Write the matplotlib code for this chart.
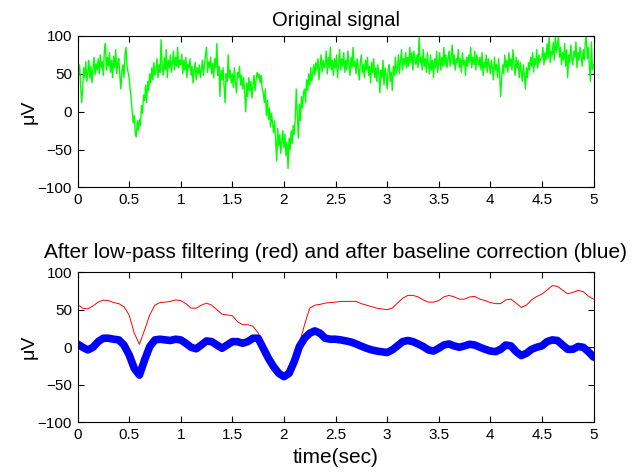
import numpy as np
import matplotlib
matplotlib.use("Agg")
import matplotlib.pyplot as plt

plt.rcParams['font.family'] = ['Liberation Sans', 'DejaVu Sans']

# ---- data ----
# original (noisy) signal, sampled every 0.01 s from 0 to 5 s
green_vals = [
    55, 48, 62, 35, 12, 30, 58, 45, 66, 40,
    52, 68, 44, 60, 38, 57, 72, 49, 63, 55,
    70, 50, 75, 58, 66, 48, 80, 90, 55, 72,
    60, 78, 52, 68, 45, 73, 58, 82, 50, 64,
    70, 48, 30, 55, 62, 45, 75, 85, 60, 52,
    45, 30, 18, 0, -15, -5, -28, -33, -12, -25,
    -10, -18, 8, -2, 22, 15, 35, 12, 40, 28,
    50, 38, 58, 42, 65, 48, 55, 70, 45, 62,
    52, 95, 60, 48, 72, 55, 82, 45, 68, 58,
    75, 52, 66, 80, 55, 72, 60, 85, 58, 68,
    62, 76, 50, 68, 55, 72, 45, 63, 58, 70,
    48, 60, 38, 55, 65, 42, 58, 50, 62, 45,
    55, 68, 48, 62, 75, 85, 52, 66, 58, 72,
    50, 64, 45, 70, 58, 90, 48, 60, 20, 55,
    42, 58, 35, 12, 50, 40, 75, 45, 55, 38,
    50, 32, 58, 40, 25, 52, 45, 60, 35, 48,
    30, 45, 25, 0, 38, 20, 45, 28, 40, 18,
    35, 48, 28, 42, 52, 45, 50, 38, 48, 30,
    25, 12, 30, -5, 15, -10, 5, -20, -2, -15,
    -28, -12, -40, -65, -22, -45, -30, -55, -38, -25,
    -48, -30, -58, -40, -75, -35, -50, -25, -42, -18,
    -30, -8, 30, -5, -35, 10, -12, 20, 5, 25,
    30, 12, 42, 28, 50, 35, 58, 40, 52, 62,
    48, 65, 55, 70, 42, 60, 75, 52, 68, 58,
    62, 80, 50, 72, 58, 85, 55, 68, 48, 70,
    58, 75, 45, 65, 82, 55, 70, 60, 78, 52,
    68, 55, 80, 62, 48, 72, 58, 85, 60, 66,
    50, 70, 58, 42, 65, 75, 52, 62, 45, 68,
    55, 72, 48, 60, 38, 65, 52, 70, 45, 58,
    40, 62, 50, 25, 55, 45, 68, 35, 58, 48,
    30, 55, 62, 40, 52, 28, 60, 48, 72, 50,
    58, 75, 50, 68, 82, 55, 70, 62, 78, 58,
    72, 60, 85, 65, 78, 55, 80, 68, 62, 75,
    58, 99, 65, 72, 55, 82, 60, 70, 52, 78,
    62, 50, 75, 55, 68, 45, 70, 58, 80, 52,
    65, 78, 55, 72, 60, 85, 62, 75, 58, 70,
    80, 60, 72, 88, 62, 75, 55, 70, 65, 82,
    58, 70, 52, 78, 62, 68, 48, 72, 60, 75,
    65, 85, 58, 72, 62, 80, 55, 75, 68, 60,
    72, 55, 78, 48, 65, 58, 75, 52, 70, 62,
    50, 68, 58, 42, 72, 55, 62, 45, 70, 52,
    20, 45, 62, 50, 75, 58, 68, 52, 78, 60,
    70, 55, 82, 62, 48, 72, 58, 68, 45, 65,
    52, 40, 62, 48, 30, 58, 45, 65, 55, 72,
    60, 78, 52, 70, 62, 82, 58, 75, 65, 70,
    72, 85, 62, 78, 68, 90, 70, 100, 65, 80,
    75, 92, 68, 100, 78, 88, 100, 72, 85, 62,
    78, 68, 90, 60, 82, 45, 75, 65, 88, 70,
    62, 80, 72, 92, 58, 78, 68, 85, 75, 60,
    82, 68, 90, 100, 70, 85, 60, 40, 92, 55,
    62,
]

# low-pass filtered (red) and baseline-corrected (blue), every 0.05 s
red_vals = [
    57, 52, 51, 55, 60, 62.7, 62, 59.5, 58, 54,
    43, 18.7, 4, 23, 43, 56, 59.5, 60, 61, 63,
    62, 58, 52, 52, 56, 58.7, 56, 50, 44, 43,
    42, 34, 30, 30, 28, 19, 5, -8, -21, -32,
    -35.5, -30, -15, 5, 30, 52, 56, 57, 58.7, 59.5,
    60, 61, 61, 61, 61, 58, 56, 54, 52, 51,
    50, 52, 58.7, 65, 69, 69, 67, 63, 60, 60,
    62, 67, 69, 67, 64, 64, 67, 67.5, 64, 62,
    59.5, 58, 58, 63, 64, 58.7, 53, 56, 63, 67.5,
    70.7, 76, 82, 81, 76, 71, 73, 75.5, 74, 68,
    64,
]
blue_vals = [
    4.4, 0, -3.5, 0, 7.5, 12, 12, 10.7, 9.8, 3,
    -10, -28, -37, -17, 1, 9.8, 10.7, 9.8, 9, 10.7,
    9.8, 5.3, 0, -2, 3, 8.4, 7.5, 3, -1.3, 3,
    7.5, 7.5, 5.3, 7.5, 12, 12, -1.3, -14.7, -25.8, -34.7,
    -39, -34.7, -19, 1, 12, 18.7, 21.8, 18.7, 12, 10.7,
    10.7, 9.8, 8.5, 7, 4.4, 1.5, -1.3, -3.5, -5, -6,
    -7, -3.5, 1.8, 7.5, 9, 7.5, 4.4, 1, -3.5, -5,
    -1.3, 3, 4.4, 1.8, 0, 1.8, 4, 3, 0, -2.7,
    -5, -5.8, -2.7, 3, 1.8, -5.8, -11, -8, -2.7, 0,
    1.8, 7.5, 9.8, 9, 3, -2.7, -2.7, 1, 0, -5.8,
    -13,
]

t_green = np.linspace(0, 5, len(green_vals))
t_filt = np.linspace(0, 5, len(red_vals))

x_ticks = [0, 0.5, 1, 1.5, 2, 2.5, 3, 3.5, 4, 4.5, 5]
x_ticklabels = ['0', '0.5', '1', '1.5', '2', '2.5', '3', '3.5', '4', '4.5', '5']
y_ticks = [-100, -50, 0, 50, 100]

title_top = 'Original signal'
title_bottom = 'After low-pass filtering (red) and after baseline correction (blue)'
ylabel = 'μV'
xlabel = 'time(sec)'

# ---- figure ----
fig = plt.figure(figsize=(6.39, 4.72), dpi=100)
ax1 = fig.add_axes([0.1213, 0.6028, 0.8075, 0.3210])
ax2 = fig.add_axes([0.1213, 0.1049, 0.8075, 0.3187])

ax1.plot(t_green, green_vals, color=(0, 1, 0), linewidth=1.0)
ax2.plot(t_filt, red_vals, color=(1, 0, 0), linewidth=0.7)
ax2.plot(t_filt, blue_vals, color=(0, 0, 1), linewidth=5.5,
         solid_capstyle='round', solid_joinstyle='round')

for ax in (ax1, ax2):
    ax.set_xlim(0, 5)
    ax.set_ylim(-100, 100)
    ax.set_xticks(x_ticks)
    ax.set_xticklabels(x_ticklabels)
    ax.set_yticks(y_ticks)
    ax.tick_params(direction='in', top=True, right=True, length=4,
                   width=0.8, labelsize=11, pad=4)
    for s in ax.spines.values():
        s.set_linewidth(0.8)
        s.set_color('black')
    ax.set_ylabel(ylabel, fontsize=14, labelpad=0)

ax1.set_title(title_top, fontsize=14.5, pad=7)
ax2.set_title(title_bottom, fontsize=15, pad=10)
ax2.set_xlabel(xlabel, fontsize=15, labelpad=4)

fig.savefig('out.png', dpi=100)
